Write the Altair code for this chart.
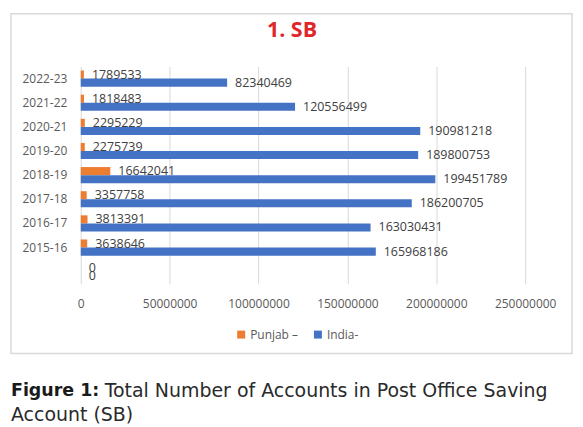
import altair as alt
import pandas as pd

categories = ["2022-23", "2021-22", "2020-21", "2019-20", "2018-19",
              "2017-18", "2016-17", "2015-16", " "]
punjab = [1789533, 1818483, 2295229, 2275739, 16642041,
          3357758, 3813391, 3638646, 0]
india = [82340469, 120556499, 190981218, 189800753, 199451789,
         186200705, 163030431, 165968186, 0]
series = ["Punjab \u2013", "India-"]
x_ticks = [0, 50000000, 100000000, 150000000, 200000000, 250000000]

title_text = "1. SB"
cap_bold = "Figure 1:"
cap_line1 = "Total Number of Accounts in Post Office Saving"
cap_line2 = "Account (SB)"

rows = []
for c, p, i in zip(categories, punjab, india):
    rows.append({"year": c, "series": series[0], "value": p})
    rows.append({"year": c, "series": series[1], "value": i})
df = pd.DataFrame(rows)

FONT = "Open Sans"
CAPFONT = "DejaVu Sans"
W, H = 446, 218

y_enc = alt.Y("year:N", sort=categories,
              scale=alt.Scale(paddingInner=0.33, paddingOuter=0.165),
              axis=alt.Axis(title=None, domain=False, ticks=False, labelPadding=14,
                            labelFont=FONT, labelFontSize=12, labelColor="#595959"))
yoff = alt.YOffset("series:N", sort=series, scale=alt.Scale(paddingInner=0, paddingOuter=0))
x_enc = alt.X("value:Q",
              scale=alt.Scale(domain=[0, 250000000], nice=False),
              axis=alt.Axis(title=None, values=x_ticks, format="d", domain=False,
                            ticks=False, tickSize=0, labelPadding=15,
                            labelOverlap=False, labelFlush=False,
                            labelFont=FONT, labelFontSize=12, labelColor="#595959",
                            gridColor="#D9D9D9", gridWidth=1))

base = alt.Chart(df)

bars = base.mark_bar().encode(
    y=y_enc, yOffset=yoff, x=x_enc,
    color=alt.Color("series:N",
                    scale=alt.Scale(domain=series, range=["#ED7D31", "#4472C4"]),
                    legend=alt.Legend(title=None, orient="none", direction="horizontal",
                                      legendX=155, legendY=263,
                                      symbolType="square", symbolSize=64,
                                      symbolStrokeWidth=0, columnPadding=13,
                                      labelOffset=3, labelFont=FONT, labelFontSize=12,
                                      labelColor="#595959")),
)

labels = base.mark_text(align="left", baseline="middle", dx=8, font=FONT,
                        fontSize=12.5, color="#404040").encode(
    y=alt.Y("year:N", sort=categories), yOffset=yoff, x="value:Q",
    text=alt.Text("value:Q", format="d"),
)

deco = pd.DataFrame([{"k": 1}])
frame = alt.Chart(deco).mark_rect(fill=None, fillOpacity=0, stroke="#D9D9D9",
                                  strokeWidth=1.5).encode(
    x=alt.value(-70), x2=alt.value(493), y=alt.value(-53), y2=alt.value(288))

title = alt.Chart(pd.DataFrame([{"t": title_text}])).mark_text(
    align="center", baseline="middle", font=FONT, fontSize=21.5, fontWeight="bold",
    color="#E0252B").encode(x=alt.value(212), y=alt.value(-36), text="t:N")

cap1b = alt.Chart(pd.DataFrame([{"t": cap_bold}])).mark_text(
    align="left", baseline="middle", font=CAPFONT, fontSize=17.5, fontWeight="bold",
    color="#1A1A1A").encode(x=alt.value(-70), y=alt.value(326), text="t:N")
cap1 = alt.Chart(pd.DataFrame([{"t": cap_line1}])).mark_text(
    align="left", baseline="middle", font=CAPFONT, fontSize=19,
    color="#2A2A2A").encode(x=alt.value(24), y=alt.value(326), text="t:N")
cap2 = alt.Chart(pd.DataFrame([{"t": cap_line2}])).mark_text(
    align="left", baseline="middle", font=CAPFONT, fontSize=19,
    color="#2A2A2A").encode(x=alt.value(-70), y=alt.value(350), text="t:N")

chart = alt.layer(frame, bars, labels, title, cap1b, cap1, cap2).properties(
    width=W, height=H,
    padding={"left": 2, "top": 4, "right": 2, "bottom": 2},
    background="white",
).configure_view(stroke=None)

chart.save("out.html", embed_options={"renderer": "svg", "actions": False})
